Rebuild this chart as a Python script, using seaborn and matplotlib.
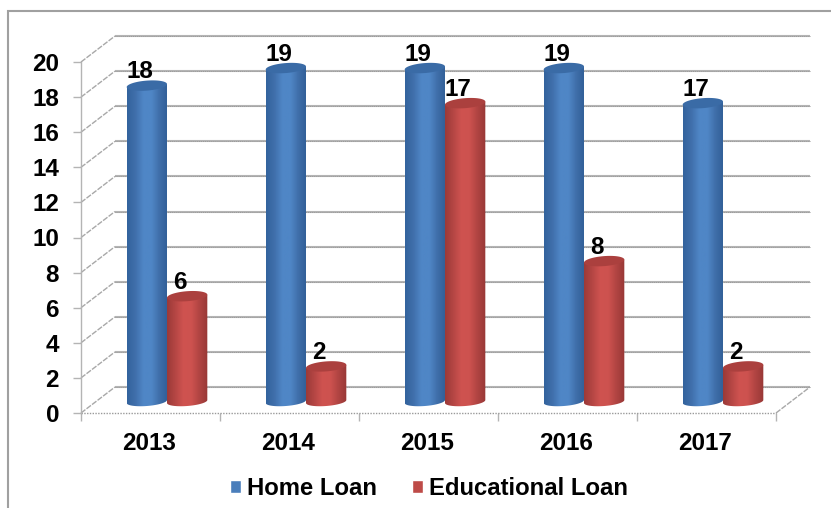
import numpy as np
import pandas as pd
import seaborn as sns
import matplotlib
matplotlib.use("Agg")
import matplotlib.pyplot as plt
from matplotlib.colors import LinearSegmentedColormap
from matplotlib.lines import Line2D
from matplotlib.patches import Polygon

years = ["2013", "2014", "2015", "2016", "2017"]
home_loan = [18, 19, 19, 19, 17]
educational_loan = [6, 2, 17, 8, 2]
y_ticks = list(range(0, 21, 2))

W, H = 831, 508
AX_LEFT, AX_RIGHT, AX_TOP, AX_BOTTOM = 81, 776, 62, 413
PX_X = (AX_RIGHT - AX_LEFT) / 5      # pixels per category
PX_Y = (AX_BOTTOM - AX_TOP) / 20     # pixels per value unit

# Oblique offset of the rear wall and of the cylinders standing on the floor
WALL_DX, WALL_DY = 34 / PX_X, 26 / PX_Y
BAR_DX, BAR_DY = 16.5 / PX_X, 11.5 / PX_Y
CAP_B, CAP_TILT = 5 / PX_Y, 1.5 / PX_Y

GRID = "#b4b4b4"
BLUE = "#4a7ebb"
RED = "#be4b48"
SHADES = {
    BLUE: (["#33639d", "#406fab", "#4f86c6", "#4f86c6", "#3f6ea9", "#315f97"], "#3a6ba6"),
    RED: (["#9c3a38", "#b54644", "#cf5350", "#cd524f", "#b04442", "#983836"], "#ab403e"),
}

sns.set_theme(style="white")
plt.rcParams["font.family"] = ["Liberation Sans", "DejaVu Sans"]
plt.rcParams["font.weight"] = "bold"

df = pd.DataFrame({
    "year": years * 2,
    "value": home_loan + educational_loan,
    "loan": ["Home Loan"] * 5 + ["Educational Loan"] * 5,
})

fig = plt.figure(figsize=(W / 100, H / 100), dpi=100, facecolor="white")
ax = fig.add_axes([AX_LEFT / W, 1 - AX_BOTTOM / H,
                   (AX_RIGHT - AX_LEFT) / W, (AX_BOTTOM - AX_TOP) / H])
ax.patch.set_alpha(0)

sns.barplot(data=df, x="year", y="value", hue="loan",
            palette=[BLUE, RED], width=0.58, gap=0, saturation=1,
            errorbar=None, ax=ax)
legend_handles, legend_labels = ax.get_legend_handles_labels()
ax.get_legend().remove()

ax.set_xlim(-0.5, 4.5)
ax.set_ylim(0, 20)
ax.set_xlabel("")
ax.set_ylabel("")


def stroke(xs, ys, **kw):
    ax.add_line(Line2D(xs, ys, clip_on=False, solid_capstyle="butt", **kw))


# Rear wall gridlines and their receding side-wall connectors
for v in y_ticks:
    stroke([-0.5 + WALL_DX, 4.5 + WALL_DX], [v + WALL_DY] * 2,
           color=GRID, lw=1.5, zorder=1)
    stroke([-0.5 + WALL_DX, 4.5 + WALL_DX], [v + WALL_DY] * 2,
           color="#9a9a9a", lw=0.7, ls=(0, (1, 1)), zorder=1.1)
    stroke([-0.5, -0.5 + WALL_DX], [v, v + WALL_DY],
           color="#a8a8a8", lw=1.0, ls=(0, (4, 1)), zorder=1)
stroke([4.5, 4.5 + WALL_DX], [0, WALL_DY],
       color="#a8a8a8", lw=1.0, ls=(0, (4, 1)), zorder=1)
stroke([-0.5, 4.5], [0, 0], color="#9a9a9a", lw=1.0, ls=(0, (1, 1)), zorder=1.2)


def cap_curve(cx, cy, a, t, b=CAP_B):
    return np.column_stack([cx + a * np.cos(t),
                            cy + b * np.sin(t) + CAP_TILT * np.cos(t)])


# Turn each flat bar into a shaded cylinder
z = 3.0
for container, base in zip(ax.containers, [BLUE, RED]):
    stops, cap_colour = SHADES[base]
    cmap = LinearSegmentedColormap.from_list("shade", stops)
    for bar in container:
        value = bar.get_height()
        a = bar.get_width() / 2
        cx = bar.get_x() + a + BAR_DX
        y0, y1 = BAR_DY, BAR_DY + value
        bar.set_visible(False)

        lower = cap_curve(cx, y0, a, np.linspace(np.pi, 2 * np.pi, 40), b=CAP_B * 0.9)
        body_pts = np.vstack([[cx - a, y1 - CAP_TILT], lower, [cx + a, y1 + CAP_TILT]])
        body = Polygon(body_pts, closed=True, transform=ax.transData,
                       facecolor="none", edgecolor="none")
        ax.add_patch(body)
        img = ax.imshow(np.linspace(0, 1, 64)[None, :], cmap=cmap, aspect="auto",
                        extent=(cx - a, cx + a, y0 - 2 * CAP_B, y1 + 2 * CAP_B),
                        zorder=z, interpolation="bilinear")
        img.set_clip_path(body)

        cap = cap_curve(cx, y1, a, np.linspace(0, 2 * np.pi, 80))
        ax.add_patch(Polygon(cap, closed=True, facecolor=cap_colour,
                             edgecolor="none", zorder=z + 0.1))
        # Value labels sit a little left of the cylinder axis
        ax.annotate(f"{value:.0f}", (cx, y1), xytext=(-5.2, 9.8), textcoords="offset points",
                    ha="center", va="center", fontsize=17.5, fontweight="bold",
                    color="black", zorder=10)
        z += 0.2

ax.set_xlim(-0.5, 4.5)
ax.set_ylim(0, 20)

# Axes: value ticks on the left, category separators along the bottom
for name in ("top", "right", "bottom"):
    ax.spines[name].set_visible(False)
ax.spines["left"].set_color(GRID)
ax.spines["left"].set_linewidth(1.0)
ax.set_yticks(y_ticks)
ax.set_yticklabels([str(v) for v in y_ticks])
ax.set_xticks(np.arange(5) - 0.012)
ax.set_xticklabels(years)
ax.set_xticks(np.arange(-0.5, 5.0, 1.0), minor=True)
ax.tick_params(axis="x", which="major", length=0, pad=13.5, labelsize=17.5, labelcolor="black")
ax.tick_params(axis="x", which="minor", length=5.8, width=1.0, color=GRID, bottom=True)
ax.tick_params(axis="y", length=5.8, width=1.0, color=GRID, pad=10, labelsize=17.5,
               labelcolor="black", left=True)
ax.grid(False)

ax.legend(legend_handles, legend_labels, loc="center", ncol=2, frameon=False,
          bbox_to_anchor=(429 / W, 1 - 488.5 / H), bbox_transform=fig.transFigure,
          fontsize=17.2, labelcolor="black", handlelength=0.48, handleheight=0.52,
          handletextpad=0.25, columnspacing=1.45, borderpad=0, borderaxespad=0)

# Chart-area frame: left and top edges only
fig.add_artist(Line2D([8 / W, 8 / W, 1], [0, 1 - 11 / H, 1 - 11 / H],
                      color="#a0a0a0", lw=1.5, solid_joinstyle="miter"))

fig.savefig("out.png", dpi=100, facecolor="white")
